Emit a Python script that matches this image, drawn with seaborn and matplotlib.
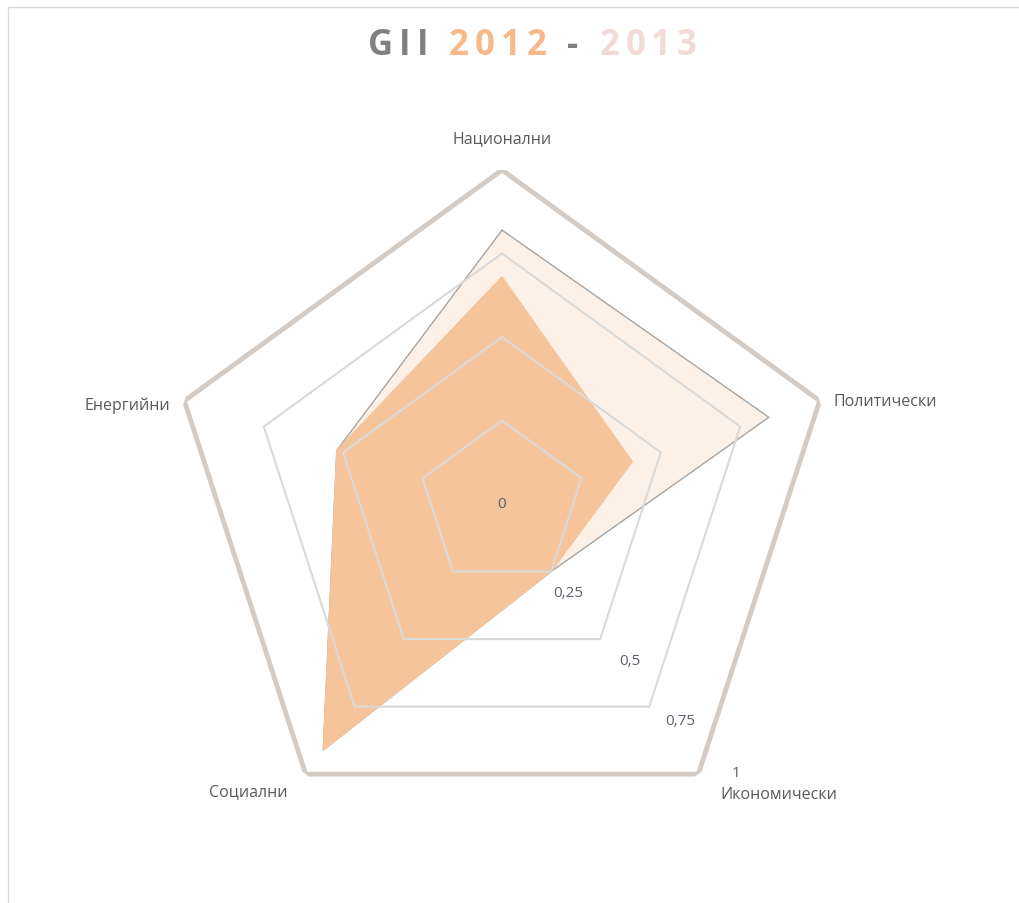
import numpy as np
import pandas as pd
import seaborn as sns
from matplotlib import pyplot as plt
from matplotlib.patches import Rectangle

categories = ['Национални', 'Политически', 'Икономически', 'Социални', 'Енергийни']
values_2012 = [0.68, 0.41, 0.25, 0.91, 0.52]
values_2013 = [0.82, 0.84, 0.25, 0.91, 0.52]
ticks = [0, 0.25, 0.5, 0.75, 1]
tick_labels = ['0', '0,25', '0,5', '0,75', '1']

sns.set_theme(style='white')
plt.rcParams['font.family'] = ['Open Sans', 'DejaVu Sans']

n = len(categories)
theta = np.linspace(0, 2 * np.pi, n, endpoint=False)
theta_closed = np.append(theta, theta[0])

df = pd.DataFrame({
    'theta': np.tile(theta_closed, 2),
    'value': values_2012 + values_2012[:1] + values_2013 + values_2013[:1],
    'year': ['2012'] * (n + 1) + ['2013'] * (n + 1),
})

fig = plt.figure(figsize=(10.19, 9.04), dpi=100)
fig.patch.set_facecolor('white')

# chart frame (only top and left visible in the reference)
fig.add_artist(Rectangle((8 / 1019, -0.1), 1.2, 1 - 8 / 904 + 0.1,
                         transform=fig.transFigure, fill=False,
                         edgecolor='#d9d9d9', linewidth=1))

ax = fig.add_axes([168 / 1019, 65 / 904, 668 / 1019, 668 / 904], projection='polar')
ax.set_theta_zero_location('N')
ax.set_theta_direction(-1)
ax.set_ylim(0, 1)
ax.grid(False)
ax.spines['polar'].set_visible(False)
ax.set_xticks([])
ax.set_yticks([])
ax.set_facecolor('none')

# series fills
d13 = df[df.year == '2013']
d12 = df[df.year == '2012']
ax.fill(d13.theta, d13.value, color='#fdf0e6', zorder=1)
sns.lineplot(data=d13, x='theta', y='value', sort=False, estimator=None,
             color='#a6a6a6', linewidth=1, ax=ax, zorder=2, legend=False)
ax.fill(d12.theta, d12.value, color='#f6c49a', zorder=3)

# polygon grid
for t in ticks[1:]:
    lw, col = (3.5, '#d4ccc4') if t == 1 else (1.5, '#d9d9d9')
    ax.plot(theta_closed, [t] * (n + 1), color=col, linewidth=lw, zorder=4)

ax.set_xlabel('')
ax.set_ylabel('')

# tick labels along the Икономически axis
offsets = [(0, 0), (17, -21), (30, -21), (31, -14), (38, 2)]
for t, lab, off in zip(ticks, tick_labels, offsets):
    ax.annotate(lab, (theta[2], t), xytext=off, textcoords='offset pixels',
                ha='center', va='center', fontsize=11, color='#5b606b', zorder=6,
                annotation_clip=False)

# category labels
label_pos = [(1.0, 'center', 'center', (0, 32)),
             (1.0, 'left', 'center', (14, 0)),
             (1.0, 'center', 'center', (80, -20)),
             (1.0, 'center', 'center', (-57, -17)),
             (1.0, 'right', 'center', (-14, -4))]
for th, cat, (r, ha, va, off) in zip(theta, categories, label_pos):
    ax.annotate(cat, (th, r), xytext=off, textcoords='offset pixels',
                ha=ha, va=va, fontsize=11.5, color='#595959', zorder=6,
                annotation_clip=False)

# title with coloured parts, letter-spaced
parts = [('GII', '#808080'), (' ', None), ('2012', '#f8b98a'), (' ', None),
         ('-', '#808080'), (' ', None), ('2013', '#f2dad6')]
renderer = fig.canvas.get_renderer()
x = 368
tracking = 6
for txt, col in parts:
    if col is None:
        x += 15
        continue
    for ch in txt:
        t = fig.text(x / 1019, 1 - 46 / 904, ch, color=col, fontsize=25,
                     fontweight='bold', ha='left', va='center')
        x += t.get_window_extent(renderer=renderer).width + tracking

fig.savefig('out.png', dpi=100)
